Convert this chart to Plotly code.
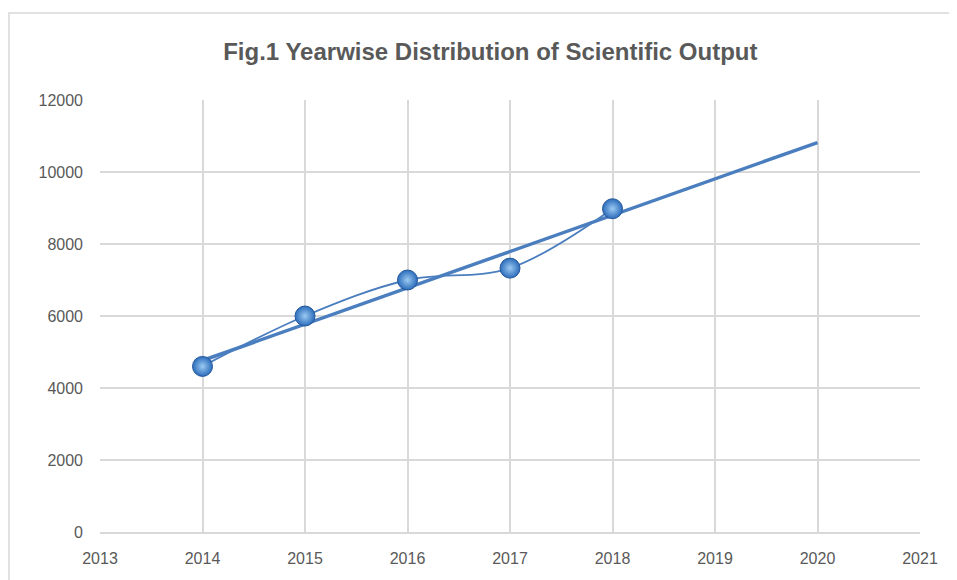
import numpy as np
import plotly.graph_objects as go

years = [2014, 2015, 2016, 2017, 2018]
output = [4600, 6000, 7000, 7330, 8980]
trend_years = [2014, 2020]
x_ticks = [2013, 2014, 2015, 2016, 2017, 2018, 2019, 2020, 2021]
y_ticks = [0, 2000, 4000, 6000, 8000, 10000, 12000]

coef = np.polyfit(years, output, 1)
trend_vals = [float(np.polyval(coef, t)) for t in trend_years]

blue = "#4a7ebf"
font_family = "Liberation Sans, Arial"

fig = go.Figure()
fig.add_trace(go.Scatter(
    x=trend_years, y=trend_vals, mode="lines",
    line=dict(color=blue, width=3.5), hoverinfo="skip", showlegend=False))
fig.add_trace(go.Scatter(
    x=years, y=output, mode="lines+markers",
    line=dict(color=blue, width=1.8, shape="spline", smoothing=1.0),
    marker=dict(size=20, color="#2b6cbb",
                gradient=dict(type="radial", color="#9ccaf2"),
                line=dict(color="#24579a", width=1)),
    showlegend=False))

fig.update_layout(
    width=957, height=580,
    margin=dict(l=92, r=45, t=92, b=56, autoexpand=False),
    paper_bgcolor="white", plot_bgcolor="white",
    title=dict(text="<b>Fig.1 Yearwise Distribution of Scientific Output</b>",
               x=0.504, xanchor="center", y=0.924, yanchor="middle",
               font=dict(family=font_family, size=24, color="#595959")),
    font=dict(family=font_family, size=16, color="#595959"),
    xaxis=dict(range=[2013, 2021], tickvals=x_ticks, ticktext=[str(t) for t in x_ticks],
               showgrid=True, gridcolor="#d9d9d9", gridwidth=1.5,
               zeroline=False, showline=True, linecolor="#d9d9d9", linewidth=1.5,
               ticks="", ticklabelstandoff=11, automargin=False),
    yaxis=dict(range=[0, 12000], tickvals=y_ticks, ticktext=[str(t) for t in y_ticks],
               showgrid=True, gridcolor="#d9d9d9", gridwidth=1.5,
               zeroline=False, showline=False, ticks="", ticklabelstandoff=16,
               automargin=False),
    shapes=[dict(type="rect", xref="paper", yref="paper",
                 x0=-0.111, x1=1.2, y0=-0.3, y1=1.2014,
                 line=dict(color="#d9d9d9", width=1.5), fillcolor="rgba(0,0,0,0)",
                 layer="below")],
)

fig.write_html("out.html")
